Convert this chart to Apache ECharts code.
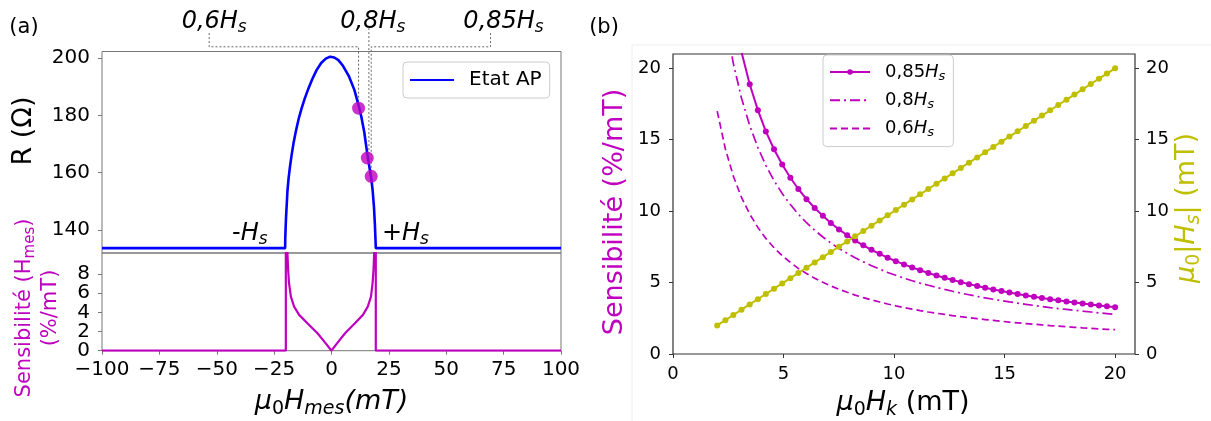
<!DOCTYPE html>
<html><head><meta charset="utf-8">
<script src="https://cdn.jsdelivr.net/npm/echarts@6/dist/echarts.min.js"></script>
<style>html,body{margin:0;padding:0;background:#fff}#c{width:1211px;height:421px}</style>
</head><body><div id="c"></div>
<script>
// ---------- Panel (a), top: resistance of the AP state vs field ----------
const hMes = [-100, -20.2, -20.15, -20.0, -19.8, -19.5, -19.2, -18.7, -18.1, -17.4, -16.5, -15.5, -14.3, -13.0,
              -11.6, -10.0, -8.3, -6.5, -4.5, -2.5, -0.6, 1.2, 3.0, 5.0, 7.5, 10.0, 11.8, 13.0, 14.3, 15.6,
              16.5, 17.3, 17.9, 18.5, 18.9, 19.15, 19.3, 100];
const rAP  = [133.6, 133.6, 137.0, 140.5, 144.5, 149.0, 153.5, 158.0, 162.0, 166.0, 170.5, 174.5, 178.8, 182.5,
              186.0, 189.5, 192.8, 195.8, 198.3, 199.8, 200.5, 200.2, 199.3, 197.3, 193.8, 188.8, 183.5, 179.5,
              174.0, 166.5, 162.0, 158.0, 154.0, 148.0, 142.0, 137.0, 133.6, 133.6];
// measurement points (0,6Hs ; 0,8Hs ; 0,85Hs)
const hDots = [11.8, 15.6, 17.3];
const rDots = [182.5, 165.1, 158.7];
// ---------- Panel (a), bottom: sensitivity vs field ----------
const hSens = [-100, -19.9, -19.9, -19.5, -19.2, -18.9, -18.5, -17.7, -16.3, -14.1, -10.5, -6.1, -2.5, 0,
               2.4, 5.9, 10.2, 13.7, 15.8, 17.2, 17.9, 18.3, 18.6, 18.9, 19.3, 19.3, 100];
const sensA = [0, 0, 40, 12.0, 10.2, 8.45, 7.06, 5.65, 4.6, 3.74, 2.87, 1.82, 0.77, 0,
               0.77, 1.82, 2.87, 3.74, 4.6, 5.65, 7.06, 8.45, 10.2, 12.0, 40, 0, 0];
// ---------- Panel (b) ----------
const hk = [2.00, 2.37, 2.73, 3.10, 3.47, 3.84, 4.20, 4.57, 4.94, 5.31, 5.67, 6.04, 6.41, 6.78, 7.14, 7.51,
            7.88, 8.24, 8.61, 8.98, 9.35, 9.71, 10.08, 10.45, 10.82, 11.18, 11.55, 11.92, 12.29, 12.65, 13.02,
            13.39, 13.76, 14.12, 14.49, 14.86, 15.22, 15.59, 15.96, 16.33, 16.69, 17.06, 17.43, 17.80, 18.16,
            18.53, 18.90, 19.27, 19.63, 20.00];
const sens085 = [32.75, 27.64, 23.99, 21.13, 18.88, 17.07, 15.58, 14.33, 13.26, 12.34, 11.55, 10.84, 10.22, 9.67,
                 9.17, 8.72, 8.31, 7.94, 7.61, 7.29, 7.01, 6.74, 6.50, 6.27, 6.06, 5.86, 5.67, 5.50, 5.33, 5.18,
                 5.03, 4.89, 4.76, 4.64, 4.52, 4.41, 4.30, 4.20, 4.10, 4.01, 3.92, 3.84, 3.76, 3.68, 3.61, 3.53,
                 3.47, 3.40, 3.34, 3.28];
const sens08 = [27.75, 23.42, 20.33, 17.90, 16.00, 14.45, 13.21, 12.14, 11.23, 10.46, 9.79, 9.19, 8.66, 8.19,
                7.77, 7.39, 7.04, 6.73, 6.45, 6.18, 5.94, 5.71, 5.51, 5.31, 5.13, 4.96, 4.81, 4.66, 4.52, 4.39,
                4.26, 4.15, 4.03, 3.93, 3.83, 3.74, 3.65, 3.56, 3.48, 3.40, 3.33, 3.25, 3.18, 3.12, 3.06, 3.00,
                2.94, 2.88, 2.83, 2.78];
const sens06 = [17.00, 14.35, 12.45, 10.96, 9.80, 8.86, 8.09, 7.44, 6.88, 6.41, 5.99, 5.63, 5.31, 5.02, 4.76,
                4.53, 4.32, 4.12, 3.95, 3.79, 3.64, 3.50, 3.37, 3.25, 3.14, 3.04, 2.94, 2.85, 2.77, 2.69, 2.61,
                2.54, 2.47, 2.41, 2.35, 2.29, 2.23, 2.18, 2.13, 2.08, 2.04, 1.99, 1.95, 1.91, 1.87, 1.83, 1.80,
                1.76, 1.73, 1.70];
const hsAbs = [2.00, 2.37, 2.73, 3.10, 3.47, 3.84, 4.20, 4.57, 4.94, 5.31, 5.67, 6.04, 6.41, 6.78, 7.14, 7.51,
               7.88, 8.24, 8.61, 8.98, 9.35, 9.71, 10.08, 10.45, 10.82, 11.18, 11.55, 11.92, 12.29, 12.65, 13.02,
               13.39, 13.76, 14.12, 14.49, 14.86, 15.22, 15.59, 15.96, 16.33, 16.69, 17.06, 17.43, 17.80, 18.16,
               18.53, 18.90, 19.27, 19.63, 20.00];
// ---------- tick labels ----------
const xTicksA = [-100, -75, -50, -25, 0, 25, 50, 75, 100];
const yTicksR = [140, 160, 180, 200];
const yTicksSA = [0, 2, 4, 6, 8];
const xTicksB = [0, 5, 10, 15, 20];
const yTicksB = [0, 5, 10, 15, 20];

const FONT = 'DejaVu Sans';
const MAG = '#bf00bf', OLIVE = '#bfbf00', BLUE = '#0000ff';

function rich(size, color) {
  const s = Math.round(size * 0.7);
  return {
    n:  {fontSize: size, fontFamily: FONT, color: color, fontStyle: 'normal', lineHeight: Math.round(size * 1.22)},
    i:  {fontSize: size, fontFamily: FONT, color: color, fontStyle: 'italic', lineHeight: Math.round(size * 1.22)},
    si: {fontSize: s, fontFamily: FONT, color: color, fontStyle: 'italic', verticalAlign: 'bottom', lineHeight: Math.round(s * 1.2)},
    sn: {fontSize: s, fontFamily: FONT, color: color, fontStyle: 'normal', verticalAlign: 'bottom', lineHeight: Math.round(s * 1.2)},
    g:  {width: 10}
  };
}
const minus = v => (v < 0 ? '\u2212' + Math.abs(v) : String(v));
const tickLbl = (vals, size, margin, extra) => Object.assign({customValues: vals, fontSize: size, fontFamily: FONT, color: '#000',
  margin: margin, interval: 0, showMinLabel: true, showMaxLabel: true, hideOverlap: false}, extra || {});
const tick = (vals, color) => ({show: true, inside: false, length: 4, interval: 0, customValues: vals, lineStyle: {color: color, width: 1}});
const noLine = {show: false, onZero: false};
// bottom-left axis of panel (a): the labels are tight, so they are split over two overlaid axes
const ySAeven = yTicksSA.filter((v, i) => i % 2 === 0);
const ySAodd = yTicksSA.filter((v, i) => i % 2 === 1);

const chart = echarts.init(document.getElementById('c'), null, {renderer: 'canvas'});
const option = {
  animation: false,
  backgroundColor: '#fff',
  grid: [
    {left: 102, top: 51.5, width: 459, height: 201.5, show: true, borderColor: '#777', borderWidth: 1},
    {left: 102, top: 253, width: 459, height: 97.7, show: true, borderColor: '#777', borderWidth: 1},
    {left: 673, top: 54, width: 462, height: 300, show: true, borderColor: '#333', borderWidth: 1.2}
  ],
  xAxis: [
    {gridIndex: 0, type: 'value', min: -100, max: 100, show: false, axisLine: noLine},
    {gridIndex: 1, type: 'value', min: -100, max: 100, axisLine: noLine, splitLine: {show: false},
     axisTick: tick(xTicksA, '#777'), axisLabel: tickLbl(xTicksA, 20, 9, {formatter: minus})},
    {gridIndex: 2, type: 'value', min: 0, max: 20.9, axisLine: noLine, splitLine: {show: false},
     axisTick: tick(xTicksB, '#333'), axisLabel: tickLbl(xTicksB, 18, 11)}
  ],
  yAxis: [
    {gridIndex: 0, type: 'value', min: 131.9, max: 202.3, axisLine: noLine, splitLine: {show: false},
     axisTick: tick(yTicksR, '#777'), axisLabel: tickLbl(yTicksR, 20, 12)},
    {gridIndex: 1, type: 'value', min: 0, max: 10.2, axisLine: noLine, splitLine: {show: false},
     axisTick: tick(ySAeven, '#777'), axisLabel: tickLbl(ySAeven, 20, 12)},
    {gridIndex: 2, type: 'value', min: 0, max: 21, axisLine: noLine, splitLine: {show: false},
     axisTick: tick(yTicksB, '#333'), axisLabel: tickLbl(yTicksB, 18, 12)},
    {gridIndex: 2, type: 'value', position: 'right', min: 0, max: 21, axisLine: noLine, splitLine: {show: false},
     axisTick: tick(yTicksB, '#333'), axisLabel: tickLbl(yTicksB, 18, 11)},
    {gridIndex: 1, type: 'value', position: 'left', offset: 0, min: 0, max: 10.2, axisLine: noLine, splitLine: {show: false},
     axisTick: tick(ySAodd, '#777'), axisLabel: tickLbl(ySAodd, 20, 12)}
  ],
  legend: [
    {id: 'la', data: [{name: 'Etat AP', itemStyle: {opacity: 0}}], left: 403, top: 62, orient: 'vertical', selectedMode: false,
     padding: [7, 8, 7, 6], itemWidth: 44, itemHeight: 14,
     backgroundColor: 'rgba(255,255,255,0.85)', borderColor: '#ccc', borderWidth: 1, borderRadius: 4,
     textStyle: {fontSize: 20, fontFamily: FONT, color: '#000', lineHeight: 22, rich: rich(20, '#000')},
     formatter: n => '{g|}' + n},
    {id: 'lb', data: [{name: '0,85Hs'}, {name: '0,8Hs', itemStyle: {opacity: 0}}, {name: '0,6Hs', itemStyle: {opacity: 0}}],
     left: 823, top: 55, orient: 'vertical', selectedMode: false,
     padding: [6, 8, 7, 6], itemGap: 6.3, itemWidth: 40, itemHeight: 7,
     backgroundColor: 'rgba(255,255,255,0.85)', borderColor: '#ccc', borderWidth: 1, borderRadius: 4,
     textStyle: {fontSize: 18, fontFamily: FONT, color: '#000', lineHeight: 22, rich: rich(18, '#000')},
     formatter: n => '{g|}{n|' + n.replace('Hs', '') + '}{i|H}{si|s}'}
  ],
  series: [
    {type: 'line', name: 'Etat AP', xAxisIndex: 0, yAxisIndex: 0, data: hMes.map((h, i) => [h, rAP[i]]),
     symbol: 'none', lineStyle: {color: BLUE, width: 2.6}, itemStyle: {color: BLUE}, z: 3},
    {type: 'scatter', name: 'dots', xAxisIndex: 0, yAxisIndex: 0, data: hDots.map((h, i) => [h, rDots[i]]),
     symbolSize: 13, itemStyle: {color: MAG}, z: 6},
    {type: 'line', name: 'sensA', xAxisIndex: 1, yAxisIndex: 1, data: hSens.map((h, i) => [h, sensA[i]]),
     symbol: 'none', lineStyle: {color: MAG, width: 2.2}, z: 3},
    {type: 'line', name: '0,85Hs', xAxisIndex: 2, yAxisIndex: 2, data: hk.map((h, i) => [h, sens085[i]]),
     symbol: 'circle', symbolSize: 6, showSymbol: true, lineStyle: {color: MAG, width: 2}, itemStyle: {color: MAG}},
    {type: 'line', name: '0,8Hs', xAxisIndex: 2, yAxisIndex: 2, data: hk.map((h, i) => [h, sens08[i]]),
     symbol: 'none', lineStyle: {color: MAG, width: 1.7, type: [10, 4, 2, 4]}, itemStyle: {color: MAG}},
    {type: 'line', name: '0,6Hs', xAxisIndex: 2, yAxisIndex: 2, data: hk.map((h, i) => [h, sens06[i]]),
     symbol: 'none', lineStyle: {color: MAG, width: 1.7, type: [7, 4]}, itemStyle: {color: MAG}},
    {type: 'line', name: 'hs', xAxisIndex: 2, yAxisIndex: 3, data: hk.map((h, i) => [h, hsAbs[i]]),
     symbol: 'circle', symbolSize: 6, showSymbol: true, lineStyle: {color: OLIVE, width: 2}, itemStyle: {color: OLIVE}}
  ]
};
chart.setOption(option);

// ---------- annotations ----------
const px = (h, r) => chart.convertToPixel({xAxisIndex: 0, yAxisIndex: 0}, [h, r]);
const dp = hDots.map((h, i) => px(h, rDots[i]));
const topY = px(0, 202.3)[1];
const elbowY = topY - 4.7;
const stubY = topY - 18.4;
const x06 = px(-53.3, 0)[0], x085 = px(69.3, 0)[0];
const dotted = pts => ({type: 'polyline', shape: {points: pts}, style: {stroke: '#666', lineWidth: 1, lineDash: [2, 2], fill: null}, z: 2});
const txt = (x, y, text, size, color, rot) => ({type: 'text', x: x, y: y, rotation: rot || 0, z: 10,
  style: {text: text, rich: rich(size, color), fontSize: size, fontFamily: FONT, fill: color, align: 'center', verticalAlign: 'middle'}});

const midAx = (px(-100, 0)[0] + px(100, 0)[0]) / 2;
const g = [
  {type: 'rect', shape: {x: 632, y: 45, width: 700, height: 500}, style: {fill: null, stroke: '#eeeeee', lineWidth: 1}, z: 0, silent: true},
  dotted([[x06, stubY], [x06, elbowY], [dp[0][0], elbowY], [dp[0][0], dp[0][1]]]),
  dotted([[dp[1][0] + 1.6, topY - 23.4], [dp[1][0] + 1.6, dp[1][1]]]),
  dotted([[x085, stubY], [x085, elbowY], [dp[2][0], elbowY], [dp[2][0], dp[2][1]]]),
  txt(x06 + 5, 22, '{i|0,6H}{si|s}', 24, '#000'),
  txt(dp[1][0] + 5.5, 22, '{i|0,8H}{si|s}', 24, '#000'),
  txt(x085 + 13, 22, '{i|0,85H}{si|s}', 24, '#000'),
  txt(px(-35.6, 0)[0], px(0, 138.6)[1], '{n|-}{i|H}{si|s}', 24, '#000'),
  txt(px(32.2, 0)[0], px(0, 138.6)[1], '{n|+}{i|H}{si|s}', 24, '#000'),
  txt(24, 28, '{n|(a)}', 21, '#000'),
  txt(604, 28, '{n|(b)}', 21, '#000'),
  txt(24, 131, '{n|R (\u03A9)}', 27, '#000', Math.PI / 2),
  txt(38, 308, '{n|Sensibilit\u00e9 (H}{sn|mes}{n|)}\n{n|(%/mT)}', 21, MAG, Math.PI / 2),
  txt(midAx, 402, '{i|\u03BC}{sn|0}{i|H}{si|mes}{i|(mT)}', 27, '#000'),
  txt(903, 403, '{i|\u03BC}{sn|0}{i|H}{si|k}{n| (mT)}', 27, '#000'),
  txt(615, 212, '{n|Sensibilit\u00e9 (%/mT)}', 27, MAG, Math.PI / 2),
  txt(1187, 208, '{i|\u03BC}{sn|0}{n||}{i|H}{si|s}{n|| (mT)}', 27, OLIVE, Math.PI / 2)
];
chart.setOption({graphic: g});
</script>
</body></html>
